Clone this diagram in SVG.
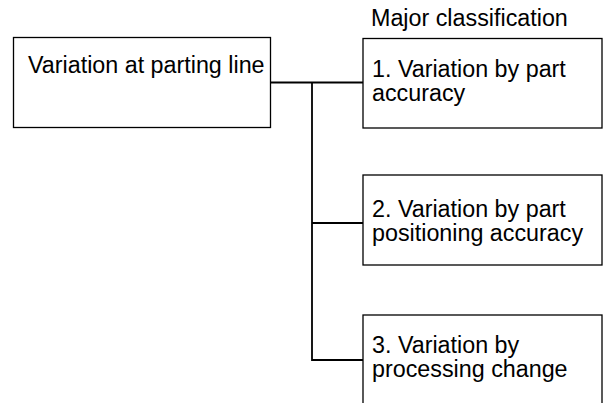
<svg xmlns="http://www.w3.org/2000/svg" width="603" height="403" viewBox="0 0 603 403">
  <style>
    .box { fill: #ffffff; stroke: #000000; stroke-width: 1.3; }
    .conn { fill: none; stroke: #000000; stroke-width: 1.8; }
    .t { font-family: "Liberation Sans", Arial, sans-serif; font-size: 23.3px; fill: #000000; }
  </style>
  <rect width="603" height="403" fill="#ffffff"/>
  <g id="connectors">
    <line class="conn" x1="271" y1="82.5" x2="363" y2="82.5"/>
    <polyline class="conn" points="312,82.5 312,360 363,360"/>
    <line class="conn" x1="312" y1="223" x2="363" y2="223" stroke-width="2.2"/>
  </g>
  <g id="root">
    <rect class="box" x="13.5" y="37.5" width="257" height="90"/>
    <text class="t" x="28" y="73">Variation at parting line</text>
  </g>
  <g id="heading">
    <text class="t" x="371" y="26">Major classification</text>
  </g>
  <g id="node1">
    <rect class="box" x="363" y="38.5" width="239" height="89.5"/>
    <text class="t" x="372" y="77">1. Variation by part</text>
    <text class="t" x="372" y="101">accuracy</text>
  </g>
  <g id="node2">
    <rect class="box" x="363" y="175" width="239" height="90"/>
    <text class="t" x="372" y="217">2. Variation by part</text>
    <text class="t" x="372" y="241">positioning accuracy</text>
  </g>
  <g id="node3">
    <rect class="box" x="363" y="315" width="239" height="100"/>
    <text class="t" x="372" y="353">3. Variation by</text>
    <text class="t" x="372" y="377">processing change</text>
  </g>
</svg>
